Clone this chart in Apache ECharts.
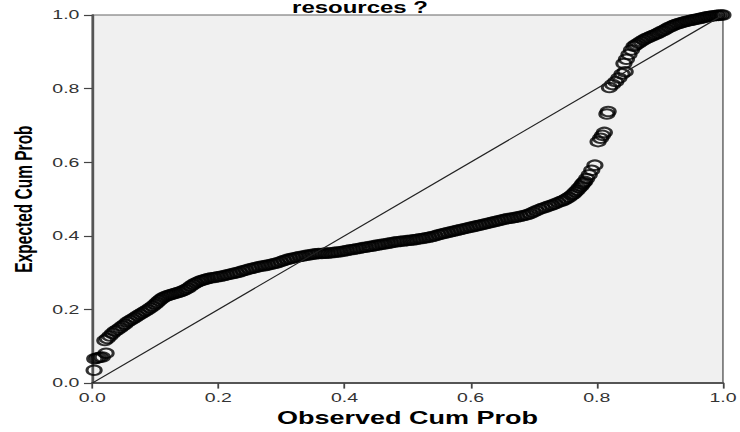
<!DOCTYPE html>
<html><head><meta charset="utf-8">
<script src="https://cdn.jsdelivr.net/npm/echarts@6/dist/echarts.min.js"></script>
<style>
html,body{margin:0;padding:0;overflow:hidden;background:#fff;width:740px;height:432px;}
#c{width:494px;height:432px;transform:scaleX(1.5);transform-origin:0 0;}
</style></head><body><div id="c"></div>
<script>
const titleText = 'resources ?';
const xName = 'Observed Cum Prob';
const yName = 'Expected Cum Prob';
const tickLabels = ['0.0','0.2','0.4','0.6','0.8','1.0'];

// [observed cum prob, expected cum prob]
const nearOrigin = [
 [0.003,0.035],[0.004,0.066],[0.008,0.068],[0.012,0.070],[0.016,0.071],[0.022,0.081]
];
const lowerBand = [
 [0.020,0.116],[0.024,0.121],[0.028,0.128],[0.032,0.135],[0.036,0.141],[0.040,0.145],
 [0.044,0.150],[0.048,0.155],[0.052,0.160],[0.056,0.166],[0.060,0.170],[0.064,0.174],
 [0.068,0.178],[0.072,0.183],[0.076,0.187],[0.080,0.191],[0.084,0.195],[0.088,0.199],
 [0.092,0.204],[0.096,0.209],[0.100,0.214],[0.103,0.219],[0.106,0.224],[0.109,0.228],
 [0.112,0.232],[0.116,0.235],[0.120,0.238],[0.124,0.240],[0.128,0.242],[0.132,0.244],
 [0.136,0.246],[0.140,0.248],[0.144,0.251],[0.148,0.254],[0.152,0.258],[0.156,0.263],
 [0.160,0.268],[0.164,0.272],[0.168,0.275],[0.172,0.278],[0.176,0.280],[0.180,0.282],
 [0.184,0.284],[0.189,0.286],[0.194,0.287],[0.199,0.289],[0.204,0.290],[0.209,0.292],
 [0.214,0.294],[0.219,0.296],[0.224,0.298],[0.229,0.300],[0.234,0.302],[0.239,0.305],
 [0.244,0.307],[0.249,0.310],[0.254,0.312],[0.259,0.314],[0.264,0.316],[0.269,0.318],
 [0.274,0.319],[0.279,0.321],[0.284,0.323],[0.289,0.325],[0.294,0.327],[0.299,0.330],
 [0.304,0.333],[0.309,0.336],[0.314,0.338],[0.319,0.340],[0.324,0.342],[0.329,0.344],
 [0.334,0.345],[0.339,0.347],[0.344,0.348],[0.349,0.350],[0.354,0.351],[0.359,0.352],
 [0.364,0.352],[0.369,0.353],[0.374,0.353],[0.379,0.354],[0.384,0.355],[0.389,0.356],
 [0.394,0.357],[0.399,0.359],[0.404,0.360],[0.409,0.362],[0.414,0.363],[0.419,0.365],
 [0.424,0.366],[0.429,0.368],[0.434,0.369],[0.439,0.371],[0.444,0.372],[0.449,0.374],
 [0.454,0.375],[0.459,0.377],[0.464,0.378],[0.469,0.380],[0.474,0.381],[0.479,0.383],
 [0.484,0.384],[0.489,0.385],[0.494,0.386],[0.499,0.387],[0.504,0.388],[0.509,0.389],
 [0.514,0.390],[0.519,0.392],[0.524,0.393],[0.529,0.395],[0.534,0.396],[0.539,0.398],
 [0.544,0.400],[0.549,0.403],[0.554,0.405],[0.559,0.407],[0.564,0.409],[0.569,0.411],
 [0.574,0.413],[0.579,0.415],[0.584,0.417],[0.589,0.419],[0.594,0.421],[0.599,0.423],
 [0.604,0.425],[0.609,0.427],[0.614,0.429],[0.619,0.431],[0.624,0.433],[0.629,0.435],
 [0.634,0.437],[0.639,0.439],[0.644,0.441],[0.649,0.443],[0.654,0.445],[0.659,0.447],
 [0.664,0.448],[0.669,0.450],[0.674,0.451],[0.679,0.453],[0.684,0.455],[0.689,0.457],
 [0.694,0.460],[0.699,0.464],[0.704,0.468],[0.709,0.472],[0.714,0.475],[0.719,0.478],
 [0.724,0.481],[0.729,0.484],[0.734,0.487],[0.739,0.491],[0.744,0.494],[0.748,0.497],
 [0.752,0.501],[0.756,0.505],[0.760,0.510],[0.763,0.514],[0.766,0.519],[0.769,0.524],
 [0.772,0.530],[0.775,0.535],[0.777,0.540],[0.779,0.544],[0.781,0.548]
];
const steepRise = [
 [0.784,0.556],[0.788,0.566],[0.792,0.578],[0.797,0.592],
 [0.802,0.656],[0.806,0.665],[0.809,0.673],[0.812,0.681],
 [0.816,0.731],[0.818,0.738],
 [0.820,0.803],[0.825,0.811],[0.830,0.819],[0.835,0.829],[0.840,0.840],[0.845,0.846]
];
const upperBand = [
 [0.843,0.868],[0.847,0.880],[0.851,0.893],[0.855,0.905],[0.859,0.915],[0.862,0.919],
 [0.866,0.923],[0.870,0.928],[0.874,0.932],[0.878,0.936],[0.882,0.939],[0.886,0.942],
 [0.890,0.945],[0.894,0.948],[0.898,0.951],[0.902,0.955],[0.906,0.958],[0.910,0.962],
 [0.914,0.966],[0.918,0.969],[0.922,0.972],[0.926,0.975],[0.930,0.977],[0.934,0.979],
 [0.938,0.981],[0.942,0.983],[0.946,0.984],[0.950,0.986],[0.954,0.987],[0.958,0.989],
 [0.962,0.990],[0.966,0.992],[0.970,0.993],[0.974,0.995],[0.978,0.996],[0.982,0.997],
 [0.986,0.998],[0.990,0.999],[0.993,0.999],[0.997,1.000],[1.000,1.000]
];
const refLine = [[0,0],[1,1]];

const points = nearOrigin.concat(lowerBand, steepRise, upperBand);
const chart = echarts.init(document.getElementById('c'), null, {renderer:'svg', width:494, height:432});
const F = '"Liberation Sans", Arial, sans-serif';
chart.setOption({
  animation:false,
  graphic:[{type:'text', x:240, y:8, style:{text:titleText, font:'bold 16px '+F, fill:'#000', align:'center', verticalAlign:'middle'}}],
  grid:{left:60, right:7.33, top:15, bottom:47, show:true, backgroundColor:'#f0f0f0', borderColor:'#666', borderWidth:1},
  xAxis:{type:'value', min:0, max:1, interval:0.2,
    name:xName, nameLocation:'middle', nameGap:20,
    nameTextStyle:{fontFamily:F, fontWeight:'bold', fontSize:18, color:'#000'},
    axisLine:{show:true, onZero:false, lineStyle:{color:'#555', width:1.8}},
    axisTick:{show:true, length:5.5, lineStyle:{color:'#444', width:1.2}},
    axisLabel:{fontFamily:F, fontSize:13, color:'#333', margin:8, formatter:(v)=>tickLabels[Math.round(v*5)]},
    splitLine:{show:false}},
  yAxis:{type:'value', min:0, max:1, interval:0.2,
    name:yName, nameLocation:'middle', nameGap:37, nameRotate:90,
    nameTextStyle:{fontFamily:F, fontWeight:'bold', fontSize:15.5, color:'#000'},
    axisLine:{show:true, onZero:false, lineStyle:{color:'#555', width:1.6}},
    axisTick:{show:true, length:5.5, lineStyle:{color:'#444', width:1.2}},
    axisLabel:{fontFamily:F, fontSize:13, color:'#333', margin:8.5, formatter:(v)=>tickLabels[Math.round(v*5)]},
    splitLine:{show:false}},
  series:[
    {type:'line', data:refLine, symbol:'none', lineStyle:{color:'#222', width:1}, z:3, silent:true},
    {type:'scatter', data:points, symbol:'circle', symbolSize:9.5,
      itemStyle:{color:'rgba(0,0,0,0)', borderColor:'#000', borderWidth:2}, z:2}
  ]
});
</script></body></html>
